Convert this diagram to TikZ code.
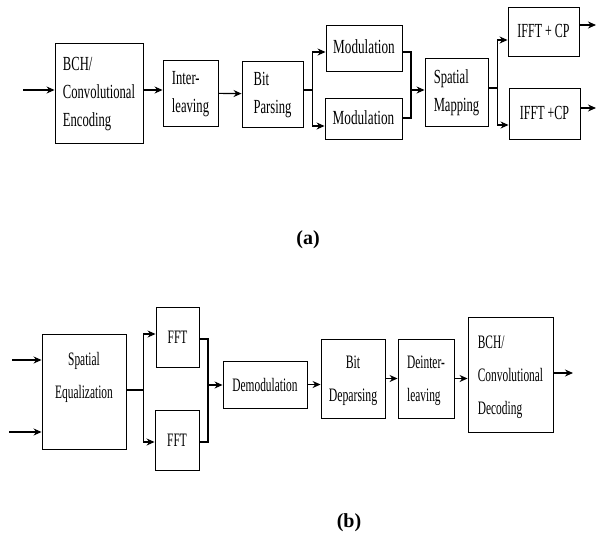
\documentclass[tikz,border=0pt]{standalone}
\usepackage{fontspec}
\setmainfont{Liberation Serif}
\usepackage{graphicx}
\usetikzlibrary{arrows.meta}

% narrow block text: scale factor, column alignment, lines
\newcommand{\sqz}[3]{\scalebox{#1}[1]{\begin{tabular}{@{}#2@{}}#3\end{tabular}}}

\begin{document}
\begin{tikzpicture}[x=1pt,y=-1pt,
        blk/.style={draw,line width=0.9pt,inner sep=0pt},
        tx/.style={font=\fontsize{20}{28}\selectfont},
        rx/.style={font=\fontsize{19}{33}\selectfont},
        arr/.style={line width=1.2pt,-{Stealth[length=8pt,width=7pt]}},
        ln/.style={line width=1.2pt}]
        \useasboundingbox (0,0) rectangle (597,536);

        % (a) transmitter
        \node[blk,tx,minimum width=88pt,minimum height=100pt] (bchenc) at (99,93) {\sqz{.63}{l}{BCH/\\Convolutional\\Encoding}};
        \node[blk,tx,minimum width=55pt,minimum height=66pt] (ilv) at (190.5,93) {\sqz{.63}{l}{Inter-\\leaving}};
        \node[blk,tx,minimum width=61pt,minimum height=66pt] (bpar) at (272.5,94) {\sqz{.63}{l}{Bit\\Parsing}};
        \node[blk,tx,minimum width=76pt,minimum height=46pt] (mod1) at (364,48) {\sqz{.66}{c}{Modulation}};
        \node[blk,tx,minimum width=77pt,minimum height=41pt] (mod2) at (363.5,118.5) {\sqz{.66}{c}{Modulation}};
        \node[blk,tx,minimum width=63pt,minimum height=68pt] (smap) at (456.5,92) {\sqz{.63}{l}{Spatial\\Mapping}};
        \node[blk,tx,minimum width=71pt,minimum height=49pt] (ifft1) at (543.5,31.5) {\sqz{.6}{c}{IFFT + CP}};
        \node[blk,tx,minimum width=71pt,minimum height=51pt] (ifft2) at (544.5,113.5) {\sqz{.6}{c}{IFFT +CP}};

        \coordinate (tin) at (23,90);
        \draw[arr] (tin) -- (tin -| bchenc.west);
        \draw[arr] ([yshift=3]bchenc.east) -- ([yshift=3]ilv.west);
        \draw[arr] (ilv) -- (bpar);
        \draw[ln] ([yshift=4]bpar.east) -- ++(9,0) coordinate (sp1);
        \draw[arr] (sp1) |- ([yshift=-4]mod1.west);
        \draw[arr] (sp1) |- ([yshift=-7.5]mod2.west);
        \coordinate (mg1) at (411,90);
        \draw[ln] ([yshift=-4]mod1.east) -| (mg1);
        \draw[ln] ([yshift=0.5]mod2.east) -| (mg1);
        \draw[arr] (mg1) -- (mg1 -| smap.west);
        \draw[ln] ([yshift=4]smap.east) -- ++(9,0) coordinate (sp2);
        \draw[arr] (sp2) |- ([yshift=-8.5]ifft1.west);
        \draw[arr] (sp2) |- ([yshift=-11.5]ifft2.west);
        \coordinate (tout1) at (596,25);
        \coordinate (tout2) at (596,108);
        \draw[arr] (tout1 -| ifft1.east) -- (tout1);
        \draw[arr] (tout2 -| ifft2.east) -- (tout2);

        \node[font=\fontsize{20}{24}\selectfont\bfseries] (lba) at (308,240) {(a)};

        % (b) receiver
        \node[blk,rx,minimum width=84pt,minimum height=115pt] (speq) at (84,391.5) {\sqz{.6}{c}{Spatial\\Equalization\\\mbox{}}};
        \node[blk,rx,minimum width=43pt,minimum height=60pt] (fft1) at (177.5,337) {\sqz{.6}{c}{FFT}};
        \node[blk,rx,minimum width=44pt,minimum height=60pt] (fft2) at (177,440) {\sqz{.6}{c}{FFT}};
        \node[blk,rx,minimum width=84pt,minimum height=47pt] (demod) at (265,384.5) {\sqz{.6}{c}{Demodulation}};
        \node[blk,rx,minimum width=64pt,minimum height=79pt] (bdp) at (353,378.5) {\sqz{.62}{c}{Bit\\Deparsing}};
        \node[blk,rx,minimum width=56pt,minimum height=79pt] (dil) at (426,378.5) {\sqz{.6}{l}{Deinter-\\leaving}};
        \node[blk,rx,minimum width=85pt,minimum height=115pt] (bchdec) at (510.5,374.5) {\sqz{.6}{l}{BCH/\\Convolutional\\Decoding}};

        \coordinate (rin1) at (12,360);
        \coordinate (rin2) at (9,432);
        \draw[arr] (rin1) -- (rin1 -| speq.west);
        \draw[arr] (rin2) -- (rin2 -| speq.west);
        \draw[ln] ([yshift=1.5]speq.east) -- ++(17,0) coordinate (sp3);
        \draw[arr] (sp3) |- ([yshift=3]fft1.west);
        \draw[arr] (sp3) |- ([yshift=-2]fft2.west);
        \coordinate (mg2) at (208,385);
        \draw[ln] ([yshift=-2]fft1.east) -| (mg2);
        \draw[ln] ([yshift=-2]fft2.east) -| (mg2);
        \draw[arr] (mg2) -- (mg2 -| demod.west);
        \draw[arr] (demod) -- (demod -| bdp.west);
        \draw[arr] (bdp) -- (dil);
        \draw[arr] (dil) -- (dil -| bchdec.west);
        \coordinate (rout) at (573,373);
        \draw[arr] (rout -| bchdec.east) -- (rout);

        \node[font=\fontsize{20}{24}\selectfont\bfseries] (lbb) at (349,523) {(b)};
\end{tikzpicture}
\end{document}
